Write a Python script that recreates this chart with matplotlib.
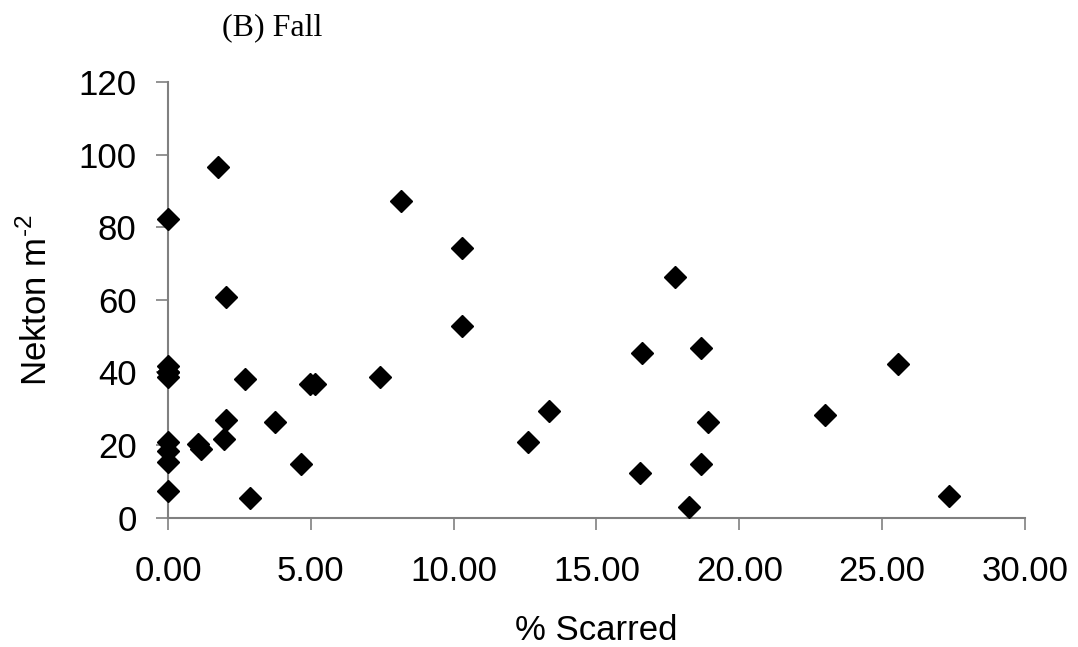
import numpy as np
import matplotlib.pyplot as plt

# percent of seagrass scarred vs. nekton density, fall samples
pct_scarred = [0.0, 0.0, 0.0, 0.0, 0.0, 0.0, 0.0, 0.0, 0.0,
               1.05, 1.15, 1.76, 1.96, 2.03, 2.03, 2.69, 2.87, 3.74,
               4.65, 4.97, 5.16, 7.44, 8.17, 10.30, 10.30, 12.60,
               13.33, 16.53, 16.60, 17.75, 18.25, 18.66, 18.66, 18.90,
               23.00, 25.54, 27.34]
nekton = [82.4, 41.8, 40.2, 38.8, 20.9, 18.5, 15.4, 7.4, 40.0,
          20.3, 18.8, 96.5, 21.6, 60.9, 26.9, 38.1, 5.5, 26.5,
          14.7, 36.8, 36.8, 38.7, 87.3, 74.3, 52.8, 20.9,
          29.4, 12.2, 45.5, 66.4, 2.9, 46.7, 14.7, 26.4,
          28.2, 42.3, 6.1]

x_ticks = np.arange(0, 30.01, 5)
y_ticks = np.arange(0, 121, 20)

plt.rcParams['font.family'] = ['Liberation Sans', 'DejaVu Sans']
plt.rcParams['mathtext.fontset'] = 'custom'
plt.rcParams['mathtext.rm'] = 'Liberation Sans'

fig = plt.figure(figsize=(10.78, 6.47), dpi=100)
ax = fig.add_axes([0.1558, 0.1998, 0.7950, 0.6735])

ax.plot(pct_scarred, nekton, linestyle='none', marker='D', markersize=11,
        color='black', clip_on=False, zorder=3)

ax.set_xlim(0, 30)
ax.set_ylim(0, 120)
ax.set_xticks(x_ticks)
ax.set_xticklabels([f"{v:.2f}" for v in x_ticks])
ax.set_yticks(y_ticks)

for side in ['top', 'right']:
    ax.spines[side].set_visible(False)
for side in ['left', 'bottom']:
    ax.spines[side].set_color('#808080')
    ax.spines[side].set_linewidth(1.5)

ax.tick_params(axis='both', direction='out', length=8.5, width=1.2,
               color='#808080', labelsize=25)
ax.tick_params(axis='x', pad=18)
ax.tick_params(axis='y', pad=14)

ax.set_xlabel('% Scarred', fontsize=25, labelpad=19)
ax.set_ylabel('Nekton m$^{\\text{-}2}$', fontsize=25, labelpad=18)

fig.text(222 / 1078, 1 - 28 / 647, '(B) Fall', family='Liberation Serif',
         fontsize=23, ha='left', va='center')

fig.savefig('out.png', dpi=100)
